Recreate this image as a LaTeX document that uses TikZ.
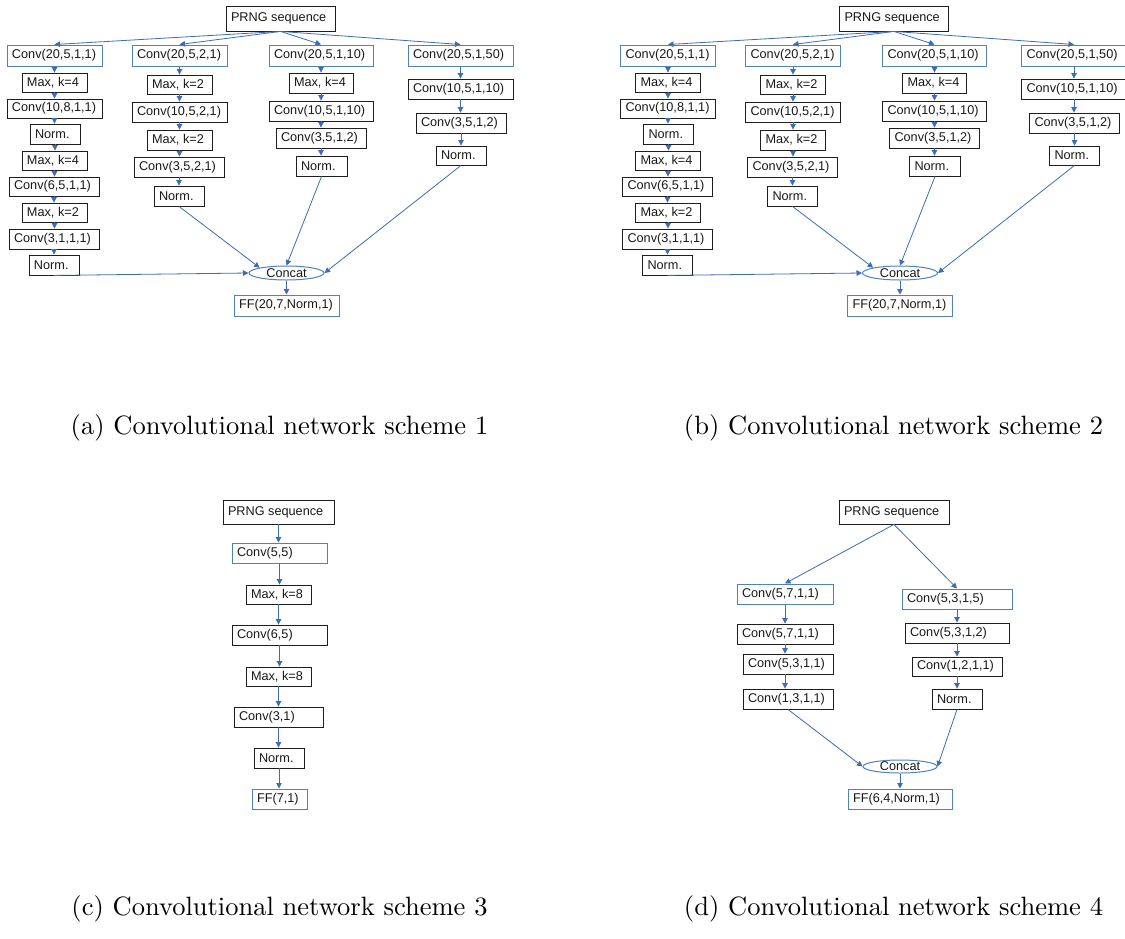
\documentclass[tikz,border=0pt]{standalone}
\usepackage{graphicx}
\usepackage{fontspec}
\newfontfamily\arial{Liberation Sans}
\usetikzlibrary{arrows.meta,shapes.geometric}
\definecolor{boxblue}{RGB}{79,129,189}
\definecolor{arrblue}{RGB}{62,108,180}
\definecolor{boxblack}{RGB}{30,30,30}
\tikzset{
  bk/.style={draw=boxblack,line width=0.85pt,inner xsep=5pt,inner ysep=0pt,
    font=\arial\fontsize{12.7}{14}\selectfont,text=black!90},
  bl/.style={bk,draw=boxblue,line width=1pt},
  cc/.style={ellipse,draw=boxblue,line width=1pt,inner sep=0pt,
    font=\arial\fontsize{12.7}{14}\selectfont,text=black!90},
  arr/.style={draw=arrblue,line width=0.8pt,-{Triangle[length=5.5pt,width=5.5pt]}},
  capnode/.style={inner sep=0pt}
}
\newcommand\bx[7][bk]{%
  \pgfmathsetmacro\bxw{#4-#3}%
  \pgfmathsetmacro\bxh{#6-#5}%
  \pgfmathsetmacro\bxcx{(#3+#4)/2}%
  \pgfmathsetmacro\bxcy{(#5+#6)/2}%
  \pgfmathsetmacro\bxtw{#4-#3-10}%
  \node[#1,minimum width=\bxw pt,minimum height=\bxh pt] (#2) at (\bxcx,\bxcy) {\makebox[\bxtw pt][l]{#7}};}
\newcommand\varr[2]{\draw[arr] (#1.south) -- (#1.south |- #2.north);}
\newcommand\panelAB[1]{%
  \bx{#1P}{226}{335}{6}{31}{PRNG sequence}
  \bx[bl]{#1a1}{7}{102}{45}{66}{Conv(20,5,1,1)}
  \bx[bl]{#1b1}{132}{227}{45}{66}{Conv(20,5,2,1)}
  \bx[bl]{#1c1}{269}{373}{45}{66}{Conv(20,5,1,10)}
  \bx[bl]{#1d1}{408}{513}{45}{66}{Conv(20,5,1,50)}
  \bx{#1a2}{22}{87}{73}{92}{Max, k=4}
  \bx{#1a3}{7}{102}{99}{118}{Conv(10,8,1,1)}
  \bx{#1a4}{30}{80}{124}{144}{Norm.}
  \bx{#1a5}{22}{87}{151}{170}{Max, k=4}
  \bx{#1a6}{9}{99}{177}{196}{Conv(6,5,1,1)}
  \bx{#1a7}{22}{87}{203}{222}{Max, k=2}
  \bx{#1a8}{9}{99}{229}{249}{Conv(3,1,1,1)}
  \bx{#1a9}{29}{79}{255}{275}{Norm.}
  \bx{#1b2}{147}{212}{75}{94}{Max, k=2}
  \bx{#1b3}{132}{227}{102}{122}{Conv(10,5,2,1)}
  \bx{#1b4}{147}{212}{130}{150}{Max, k=2}
  \bx{#1b5}{134}{224}{157}{177}{Conv(3,5,2,1)}
  \bx{#1b6}{154}{204}{186}{206}{Norm.}
  \bx{#1c2}{289}{353}{73}{93}{Max, k=4}
  \bx{#1c3}{269}{373}{101}{121}{Conv(10,5,1,10)}
  \bx{#1c4}{276}{366}{128}{148}{Conv(3,5,1,2)}
  \bx{#1c5}{296}{347}{156}{176}{Norm.}
  \bx{#1d2}{408}{513}{79}{99}{Conv(10,5,1,10)}
  \bx{#1d3}{416}{506}{113}{133}{Conv(3,5,1,2)}
  \bx{#1d4}{436}{486}{146}{165}{Norm.}
  \node[cc,minimum width=75pt,minimum height=14pt] (#1cc) at (286.5,273) {Concat};
  \bx[bl]{#1ff}{234}{339}{295}{316}{FF(20,7,Norm,1)}
  \foreach \t in {a1,b1,c1,d1} {\draw[arr] (#1P.south) -- (#1\t.north);}
  \varr{#1a1}{#1a2}\varr{#1a2}{#1a3}\varr{#1a3}{#1a4}\varr{#1a4}{#1a5}
  \varr{#1a5}{#1a6}\varr{#1a6}{#1a7}\varr{#1a7}{#1a8}\varr{#1a8}{#1a9}
  \varr{#1b1}{#1b2}\varr{#1b2}{#1b3}\varr{#1b3}{#1b4}\varr{#1b4}{#1b5}\varr{#1b5}{#1b6}
  \varr{#1c1}{#1c2}\varr{#1c2}{#1c3}\varr{#1c3}{#1c4}\varr{#1c4}{#1c5}
  \varr{#1d1}{#1d2}\varr{#1d2}{#1d3}\varr{#1d3}{#1d4}
  \draw[arr] (#1a9.south) -- (#1cc.west);
  \draw[arr] (#1b6.south) -- (#1cc.north west);
  \draw[arr] (#1c5.south) -- (#1cc.north);
  \draw[arr] (#1d4.south) -- (#1cc.east);
  \draw[arr] (#1cc.south) -- (#1cc.south |- #1ff.north);
}
\begin{document}
\begin{tikzpicture}[x=1pt,y=-1pt]
\useasboundingbox[fill=white] (0,0) rectangle (1125,938);
% panel (a)
\begin{scope}
  \panelAB{A}
\end{scope}
% panel (b)
\begin{scope}[xshift=613.5pt]
  \panelAB{B}
\end{scope}
% panel (c)
\bx{CP}{223}{334}{500}{524}{PRNG sequence}
\bx[bl]{C1}{232}{327}{543}{563}{Conv(5,5)}
\bx{C2}{246}{311}{585}{604}{Max, k=8}
\bx{C3}{232}{327}{625}{645}{Conv(6,5)}
\bx{C4}{246}{311}{667}{686}{Max, k=8}
\bx{C5}{234}{323}{707}{727}{Conv(3,1)}
\bx{C6}{254}{304}{748}{768}{Norm.}
\bx[bl]{C7}{252}{307}{789}{809}{FF(7,1)}
\varr{CP}{C1}\varr{C1}{C2}\varr{C2}{C3}\varr{C3}{C4}\varr{C4}{C5}\varr{C5}{C6}\varr{C6}{C7}
% panel (d)
\bx{DP}{839}{949}{500}{524}{PRNG sequence}
\bx[bl]{DL1}{737}{833}{584}{604}{Conv(5,7,1,1)}
\bx[bl]{DR1}{902}{1012}{589}{609}{Conv(5,3,1,5)}
\bx{DL2}{737}{833}{624}{644}{Conv(5,7,1,1)}
\bx{DL3}{743}{833}{654}{674}{Conv(5,3,1,1)}
\bx{DL4}{743}{833}{689}{709}{Conv(1,3,1,1)}
\bx{DR2}{905}{1009}{623}{643}{Conv(5,3,1,2)}
\bx{DR3}{912}{1002}{657}{676}{Conv(1,2,1,1)}
\bx{DR4}{932}{982}{689}{709}{Norm.}
\node[cc,minimum width=74pt,minimum height=13pt] (Dcc) at (900,766.5) {Concat};
\bx[bl]{Dff}{848}{952}{789}{809}{FF(6,4,Norm,1)}
\draw[arr] (DP.south) -- (DL1.north);
\draw[arr] (DP.south) -- (DR1.north);
\draw[arr] (DL1.south) -- (DL1.south |- DL2.north);
\draw[arr] (DL2.south) -- (DL2.south |- DL3.north);
\draw[arr] (DL2.south |- DL3.south) -- (DL2.south |- DL4.north);
\varr{DR1}{DR2}\varr{DR2}{DR3}\varr{DR3}{DR4}
\draw[arr] (DL4.south) -- (Dcc.west);
\draw[arr] (DR4.south) -- (Dcc.east);
\draw[arr] (Dcc.south) -- (Dcc.south |- Dff.north);
% captions
\node[capnode] (capa) at (279.5,428) {\scalebox{2.65}{(a) Convolutional network scheme 1}};
\node[capnode] (capb) at (893.5,428) {\scalebox{2.65}{(b) Convolutional network scheme 2}};
\node[capnode] (capc) at (279.5,909) {\scalebox{2.65}{(c) Convolutional network scheme 3}};
\node[capnode] (capd) at (893.5,909) {\scalebox{2.65}{(d) Convolutional network scheme 4}};
\end{tikzpicture}
\end{document}
